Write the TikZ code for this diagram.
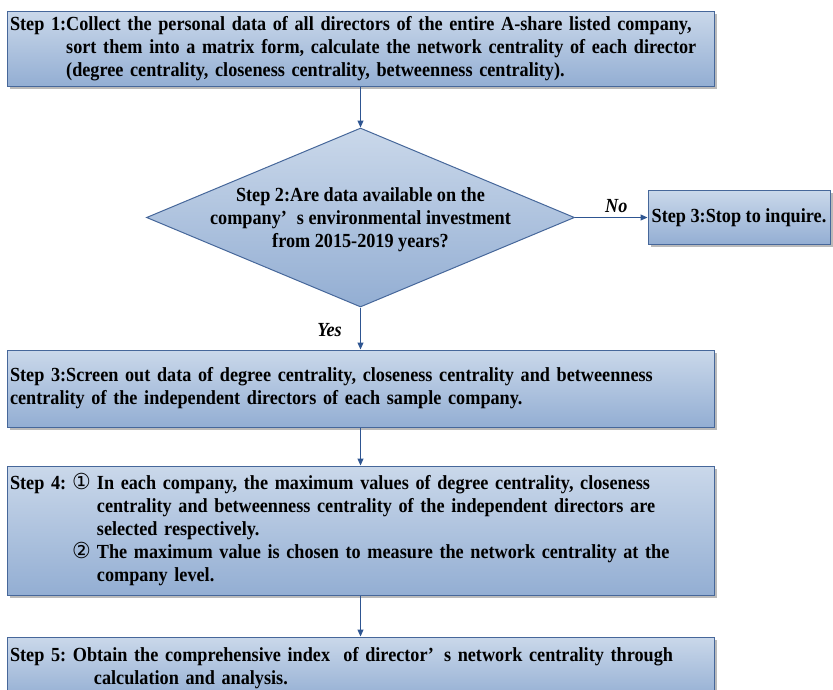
\documentclass[tikz,border=0pt]{standalone}
\usepackage{fontspec}
\setmainfont{Liberation Serif}[FakeStretch=0.91]
\newfontfamily\circfont{DejaVu Sans}[FakeStretch=0.95]
\usetikzlibrary{shapes.geometric,shadows,arrows.meta}
\definecolor{boxtop}{HTML}{CAD8EA}
\definecolor{boxbot}{HTML}{93AED3}
\definecolor{edgec}{HTML}{46679A}
\definecolor{arrowc}{HTML}{2E5591}
\newcommand\steptext{\fontsize{20}{23}\selectfont\bfseries}
\newcommand\fwq{’\hspace{0.5em}}
\newcommand\circd[1]{{\circfont\mdseries\fontsize{22}{23}\selectfont #1}}
\frenchspacing
\tikzset{
  stepbox/.style={draw=edgec, line width=1pt, top color=boxtop, bottom color=boxbot,
    drop shadow={shadow xshift=2.5pt, shadow yshift=-2.5pt, fill=black!45, opacity=0.6},
    inner xsep=3pt, inner ysep=0pt, font=\steptext, align=left},
  decision/.style={diamond, draw=edgec, line width=1pt, top color=boxtop, bottom color=boxbot,
    inner sep=0pt, minimum width=428pt, minimum height=179pt},
  conn/.style={draw=arrowc, line width=1pt, -{Triangle[length=7pt,width=6pt]}},
  lab/.style={font=\steptext\itshape},
}
\begin{document}
\begin{tikzpicture}[x=1pt,y=-1pt]
\useasboundingbox (0,0) rectangle (833,689);

\node[stepbox, text width=701pt, minimum height=75pt] (s1) at (360.5,48.5)
 {\begin{tabular}{@{}l@{}l@{}}
  Step 1:&Collect the personal data of all directors of the entire A-share listed company,\\
  &sort them into a matrix form, calculate the network centrality of each director\\
  &(degree centrality, closeness centrality, betweenness centrality).
 \end{tabular}};

\node[decision] (d) at (360.5,217.5) {};
\node[font=\steptext, align=center, inner sep=0pt, yshift=-2pt] (dtext) at (d.center)
 {Step 2:Are data available on the\\ company\fwq s environmental investment\\ from 2015-2019 years?};

\node[stepbox, minimum width=182pt, minimum height=54pt] (stop) at (739,217.5) {Step 3:Stop to inquire.};

\node[stepbox, text width=701pt, minimum height=77pt] (s3) at (360.5,388.5)
 {Step 3:Screen out data of degree centrality, closeness centrality and betweenness\\
  centrality of the independent directors of each sample company.};

\node[stepbox, text width=701pt, minimum height=129pt] (s4) at (360.5,530.5)
 {\begin{tabular}{@{}l@{\hspace{6pt}}l@{\hspace{6pt}}l@{}}
  Step 4: &\circd{①} &In each company, the maximum values of degree centrality, closeness\\
  & &centrality and betweenness centrality of the independent directors are\\
  & &selected respectively.\\
  &\circd{②} &The maximum value is chosen to measure the network centrality at the\\
  & &company level.
 \end{tabular}};

\node[stepbox, text width=701pt, minimum height=63pt] (s5) at (360.5,668.5)
 {Step 5: Obtain the comprehensive index \ of director\fwq s network centrality through\\
  \hspace*{84pt}calculation and analysis.};

\draw[conn] (s1.south) -- (d.north);
\draw[conn] (d.east) -- node[lab, above=1pt, xshift=5pt] {No} (stop.west);
\draw[conn] (d.south) -- node[lab, left=15pt, yshift=-2pt] {Yes} (s3.north);
\draw[conn] (s3.south) -- (s4.north);
\draw[conn] (s4.south) -- (s5.north);
\end{tikzpicture}
\end{document}
